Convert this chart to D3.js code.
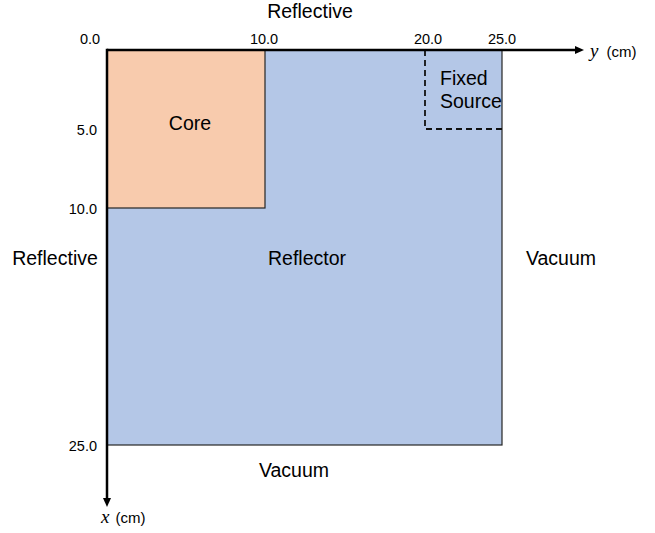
<!DOCTYPE html>
<html><head><meta charset="utf-8">
<script src="https://cdn.jsdelivr.net/npm/d3@7"></script>
<style>body{margin:0;background:#fff}svg{display:block}text{font-family:"Liberation Sans",Arial,sans-serif;fill:#000}</style>
</head><body><svg id="c" width="655" height="533"></svg>
<script>
const regionNames = ["Reflector", "Core"];
const regionY = [[0, 25], [0, 10]];
const regionX = [[0, 25], [0, 10]];
const regionColors = ["#B4C7E7", "#F8CBAD"];
const sourceY = [20, 25];
const sourceX = [0, 5];
const topTicks = [0, 10, 20, 25];
const topTickLabels = ["0.0", "10.0", "20.0", "25.0"];
const leftTicks = [5, 10, 25];
const leftTickLabels = ["5.0", "10.0", "25.0"];
const boundaryLabels = ["Reflective", "Reflective", "Vacuum", "Vacuum"]; // top, left, right, bottom

const svg = d3.select("#c");
const sy = d3.scaleLinear().domain([0, 25]).range([107, 502]); // horizontal (y cm)
const sx = d3.scaleLinear().domain([0, 25]).range([50, 445]);  // vertical (x cm)

regionNames.forEach((n, i) => {
  svg.append("rect")
    .attr("x", sy(regionY[i][0])).attr("y", sx(regionX[i][0]))
    .attr("width", sy(regionY[i][1]) - sy(regionY[i][0]))
    .attr("height", sx(regionX[i][1]) - sx(regionX[i][0]))
    .attr("fill", regionColors[i]).attr("stroke", "#262626").attr("stroke-width", 1.2);
});

svg.append("path")
  .attr("d", `M${sy(sourceY[0]) + 2},${sx(sourceX[0])}V${sx(sourceX[1])}H${sy(sourceY[1]) + 3}`)
  .attr("fill", "none").attr("stroke", "#111").attr("stroke-width", 1.8).attr("stroke-dasharray", "6,4");

svg.append("line").attr("x1", sy(0)).attr("y1", sx(0)).attr("x2", 577).attr("y2", sx(0))
  .attr("stroke", "#000").attr("stroke-width", 2.5);
svg.append("path").attr("d", `M584,${sx(0)}L575,${sx(0) - 4}L575,${sx(0) + 4}Z`).attr("fill", "#000");
svg.append("line").attr("x1", sy(0)).attr("y1", sx(0) - 1.25).attr("x2", sy(0)).attr("y2", 499)
  .attr("stroke", "#000").attr("stroke-width", 2.5);
svg.append("path").attr("d", `M${sy(0)},507L${sy(0) - 4},498L${sy(0) + 4},498Z`).attr("fill", "#000");

const topOffsets = [-17, -1, 5, 0];
topTicks.forEach((t, i) => {
  svg.append("text").attr("x", sy(t) + topOffsets[i]).attr("y", 44)
    .attr("text-anchor", "middle").attr("font-size", 14.5).text(topTickLabels[i]);
});
leftTicks.forEach((t, i) => {
  svg.append("text").attr("x", 97).attr("y", sx(t) + 5.5)
    .attr("text-anchor", "end").attr("font-size", 14.5).text(leftTickLabels[i]);
});

const yt = svg.append("text").attr("x", 590).attr("y", 57);
yt.append("tspan").attr("font-family", "'Liberation Serif',serif").attr("font-style", "italic").attr("font-size", 19).text("y");
yt.append("tspan").attr("font-size", 15).attr("dx", 8).text("(cm)");
const xt = svg.append("text").attr("x", 101).attr("y", 523);
xt.append("tspan").attr("font-family", "'Liberation Serif',serif").attr("font-style", "italic").attr("font-size", 19).text("x");
xt.append("tspan").attr("font-size", 15).attr("dx", 6).text("(cm)");

const fs = 19.5;
svg.append("text").attr("x", 310).attr("y", 18).attr("text-anchor", "middle").attr("font-size", fs).text(boundaryLabels[0]);
svg.append("text").attr("x", 55).attr("y", 265).attr("text-anchor", "middle").attr("font-size", fs).text(boundaryLabels[1]);
svg.append("text").attr("x", 561).attr("y", 265).attr("text-anchor", "middle").attr("font-size", fs).text(boundaryLabels[2]);
svg.append("text").attr("x", 294).attr("y", 477).attr("text-anchor", "middle").attr("font-size", fs).text(boundaryLabels[3]);
svg.append("text").attr("x", sy(5) + 4).attr("y", 130).attr("text-anchor", "middle").attr("font-size", fs).text(regionNames[1]);
svg.append("text").attr("x", 307).attr("y", 265).attr("text-anchor", "middle").attr("font-size", fs).text(regionNames[0]);
svg.append("text").attr("x", 440).attr("y", 85).attr("font-size", fs).text("Fixed");
svg.append("text").attr("x", 440).attr("y", 108).attr("font-size", fs).text("Source");
</script></body></html>
